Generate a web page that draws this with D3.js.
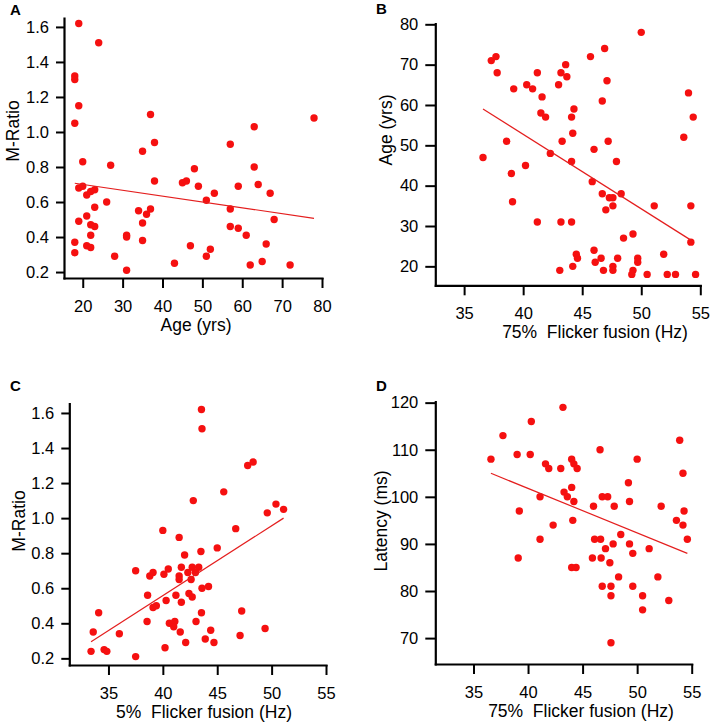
<!DOCTYPE html>
<html>
<head>
<meta charset="UTF-8">
<title>flicker fusion scatter</title>
<script src="https://cdn.jsdelivr.net/npm/d3@7"></script>
<style>
  body { margin: 0; background: #fff; }
  svg text { font-family: "Liberation Sans", Arial, sans-serif; }
</style>
</head>
<body>
<div id="chart"></div>
<script>
// A: age vs M-ratio
const ageMRatio = [
  [19,1.62],[24,1.51],[18,1.32],[18,1.30],[19,1.15],[18,1.05],[37,1.10],[38,0.94],[35,0.89],
  [78,1.08],[57,0.93],[63,1.03],[63,0.80],[20,0.83],[27,0.81],[48,0.79],[38,0.72],[45,0.71],
  [46,0.72],[49,0.69],[59,0.69],[64,0.70],[67,0.65],[53,0.65],[51,0.61],[19,0.68],[20,0.69],
  [21,0.64],[22,0.66],[23,0.67],[26,0.60],[23,0.57],[19,0.49],[21,0.52],[22,0.47],[23,0.46],
  [22,0.41],[18,0.37],[18,0.31],[21,0.35],[22,0.34],[28,0.29],[31,0.41],[31,0.40],[31,0.21],
  [34,0.55],[35,0.48],[36,0.53],[37,0.56],[35,0.38],[57,0.56],[57,0.46],[59,0.45],[61,0.41],
  [68,0.50],[66,0.36],[47,0.35],[52,0.33],[51,0.29],[43,0.25],[62,0.24],[65,0.26],[72,0.24]
];
const fitA = [[18,0.707],[78,0.507]];

// B: 75% flicker fusion vs age
const flicker75Age = [
  [36.6,47],[37.3,71],[37.7,72],[37.8,68],[39.2,64],[38.6,51],[39.0,43],[40.2,45],[40.3,65],
  [40.8,64],[41.2,68],[41.6,62],[41.5,58],[41.9,57],[42.3,48],[43.0,65],[43.2,68],[43.6,70],
  [43.7,67],[44.3,59],[44.1,57],[44.2,53],[43.3,51],[44.1,46],[45.7,72],[46.9,74],[47.1,66],
  [46.7,61],[47.2,51],[46.0,49],[47.9,46],[50.0,78],[54.0,63],[54.4,57],[53.6,52],[45.85,41],
  [46.7,38],[47.3,37],[47.6,37],[47.0,34],[47.6,35],[48.3,38],[51.1,35],[54.2,35],[54.2,26],
  [39.1,36],[41.2,31],[43.2,31],[44.1,31],[49.3,28],[48.5,27],[46.0,24],[44.5,23],[44.6,22],
  [44.2,20],[43.1,19],[46.1,21],[46.6,22],[46.8,19],[47.6,20],[47.6,19],[48.0,22],[49.7,22],
  [49.7,21],[49.3,19],[49.2,18],[50.5,18],[51.9,23],[52.2,18],[52.9,18],[54.6,18]
];
const fitB = [[36.6,59],[54.2,26.5]];

// C: 5% flicker fusion vs M-ratio
const flicker5MRatio = [
  [43.55,1.62],[43.6,1.51],[47.8,1.30],[48.3,1.32],[45.6,1.15],[42.8,1.10],[49.6,1.03],[50.4,1.08],
  [51.1,1.05],[40.0,0.93],[41.5,0.89],[46.7,0.94],[42.0,0.79],[43.5,0.81],[45.0,0.83],[37.5,0.70],
  [38.8,0.67],[39.1,0.69],[40.1,0.68],[40.5,0.71],[41.7,0.72],[41.5,0.67],[41.5,0.65],[42.3,0.69],
  [42.7,0.72],[43.3,0.72],[43.0,0.69],[42.6,0.65],[38.6,0.56],[39.1,0.49],[39.4,0.50],[40.3,0.53],
  [41.2,0.56],[41.7,0.52],[42.4,0.57],[42.7,0.55],[43.6,0.60],[44.2,0.61],[43.55,0.46],[43.05,0.41],
  [38.55,0.41],[40.6,0.40],[41.1,0.41],[41.0,0.38],[41.6,0.35],[34.1,0.46],[33.6,0.35],[36.0,0.34],
  [33.4,0.24],[34.6,0.25],[34.85,0.24],[37.5,0.21],[40.2,0.26],[42.1,0.29],[43.9,0.31],[44.4,0.36],
  [44.7,0.29],[47.1,0.33],[47.25,0.47],[49.4,0.37]
];
const fitC = [[33.4,0.295],[51.1,1.0]];

// D: 75% flicker fusion vs latency
const flicker75Latency = [
  [36.6,108],[37.7,113],[39.0,109],[39.2,97],[40.3,116],[40.2,109],[41.1,100],[41.1,91],[41.6,107],
  [41.9,106],[42.3,94],[43.2,119],[43.0,106],[43.3,101],[43.6,100],[44.0,108],[44.2,107],[44.5,106],
  [44.0,102],[44.2,99],[44.1,95],[46.6,110],[46.0,98],[46.8,100],[47.3,100],[47.9,98],[46.1,91],
  [46.65,91],[47.1,89],[47.8,90],[48.5,92],[49.2,103],[49.3,99],[49.3,90],[49.6,88],[50.0,108],
  [51.1,89],[52.2,98],[53.9,112],[54.2,105],[53.6,95],[54.3,97],[54.2,94],[54.6,91],[39.1,87],
  [44.0,85],[44.4,85],[45.9,87],[46.7,87],[47.5,86],[46.8,81],[47.6,81],[47.6,79],[48.3,83],
  [49.6,81],[50.5,79],[50.5,76],[51.9,83],[52.9,78],[47.6,69]
];
const fitD = [[36.6,105],[54.6,88]];

const ageTicks = [20, 30, 40, 50, 60, 70, 80];
const hzTicks = [35, 40, 45, 50, 55];
const mRatioTicks = [0.2, 0.4, 0.6, 0.8, 1.0, 1.2, 1.4, 1.6];
const ageYTicks = [20, 30, 40, 50, 60, 70, 80];
const latencyTicks = [70, 80, 90, 100, 110, 120];

const dotColor = "#f51010";
const lineColor = "#e41e1e";

const panels = [
  { label: "A", data: ageMRatio, fit: fitA,
    xDomain: [15.3, 80], xRange: [64, 322], yDomain: [0.166, 1.651], yRange: [278, 18],
    xTicks: ageTicks, yTicks: mRatioTicks, yFmt: d3.format(".1f"), yTick: 8,
    xTitle: "Age (yrs)", xTitleX: 196, yTitle: "M-Ratio", yTitleX: 19, yTitleY: 131,
    labelX: 10, labelY: 15 },
  { label: "B", data: flicker75Age, fit: fitB,
    xDomain: [32.56, 55], xRange: [435.3, 700.3], yDomain: [15.3, 80.2], yRange: [285.3, 23.5],
    xTicks: hzTicks, yTicks: ageYTicks, yFmt: d3.format("d"), yTick: 10,
    xTitle: "75%\u00a0\u00a0Flicker fusion (Hz)", xTitleX: 595, yTitle: "Age (yrs)", yTitleX: 392, yTitleY: 130,
    labelX: 376, labelY: 14 },
  { label: "C", data: flicker5MRatio, fit: fitC,
    xDomain: [31.4, 55], xRange: [69.3, 326], yDomain: [0.162, 1.654], yRange: [665, 403.5],
    xTicks: hzTicks, yTicks: mRatioTicks, yFmt: d3.format(".1f"), yTick: 8,
    xTitle: "5%\u00a0\u00a0Flicker fusion (Hz)", xTitleX: 204, yTitle: "M-Ratio", yTitleX: 25, yTitleY: 521,
    labelX: 10, labelY: 391 },
  { label: "D", data: flicker75Latency, fit: fitD,
    xDomain: [31.5, 55], xRange: [435.3, 691.7], yDomain: [64.5, 120.2], yRange: [664, 401.7],
    xTicks: hzTicks, yTicks: latencyTicks, yFmt: d3.format("d"), yTick: 10,
    xTitle: "75%\u00a0\u00a0Flicker fusion (Hz)", xTitleX: 581, yTitle: "Latency (ms)", yTitleX: 387, yTitleY: 521,
    labelX: 376, labelY: 391 }
];

const svg = d3.select("#chart").append("svg")
  .attr("width", 714)
  .attr("height", 727);

panels.forEach(function(p) {
  const x = d3.scaleLinear().domain(p.xDomain).range(p.xRange);
  const y = d3.scaleLinear().domain(p.yDomain).range(p.yRange);
  const g = svg.append("g");

  // dots
  g.selectAll("circle")
    .data(p.data)
    .join("circle")
    .attr("cx", d => x(d[0]))
    .attr("cy", d => y(d[1]))
    .attr("r", 3.7)
    .attr("fill", dotColor);

  // fit line
  g.append("path")
    .datum(p.fit)
    .attr("d", d3.line().x(d => x(d[0])).y(d => y(d[1])))
    .attr("stroke", lineColor)
    .attr("stroke-width", 1.2)
    .attr("fill", "none");

  const xAxis = g.append("g")
    .attr("transform", "translate(0," + p.yRange[0] + ")")
    .call(d3.axisBottom(x).tickValues(p.xTicks).tickSize(10).tickSizeOuter(0).tickPadding(12));

  const yAxis = g.append("g")
    .attr("transform", "translate(" + p.xRange[0] + ",0)")
    .call(d3.axisLeft(y).tickValues(p.yTicks).tickFormat(p.yFmt).tickSize(p.yTick).tickSizeOuter(0).tickPadding(7));

  [xAxis, yAxis].forEach(function(a) {
    a.select(".domain").attr("stroke", "#000").attr("stroke-width", 2.2).attr("stroke-linecap", "square");
    a.selectAll(".tick line").attr("stroke", "#000").attr("stroke-width", 2);
    a.selectAll(".tick text").attr("font-size", "16.5px").attr("fill", "#000");
  });

  g.append("text")
    .attr("x", p.xTitleX)
    .attr("y", p.yRange[0] + 53)
    .attr("text-anchor", "middle")
    .attr("font-size", "17.5px")
    .text(p.xTitle);

  g.append("text")
    .attr("transform", "translate(" + p.yTitleX + "," + p.yTitleY + ") rotate(-90)")
    .attr("text-anchor", "middle")
    .attr("font-size", "17.5px")
    .text(p.yTitle);

  g.append("text")
    .attr("x", p.labelX)
    .attr("y", p.labelY)
    .attr("font-size", "15px")
    .attr("font-weight", "bold")
    .text(p.label);
});
</script>
</body>
</html>
